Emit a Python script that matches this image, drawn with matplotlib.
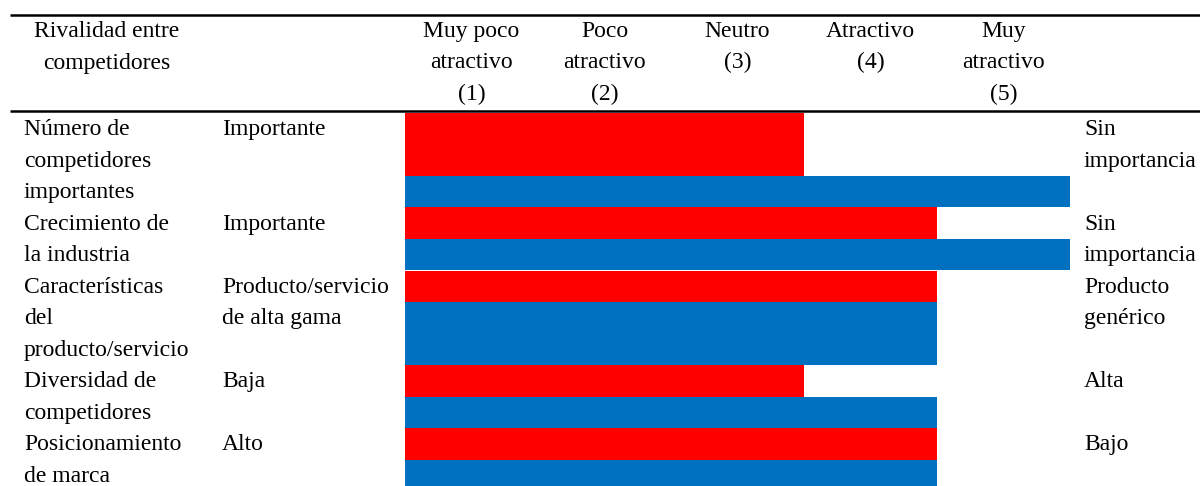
import matplotlib
matplotlib.use("Agg")
import matplotlib.pyplot as plt

# ---- data ----
header_title = ["Rivalidad entre", "competidores"]
scale_labels = [
    ["Muy poco", "atractivo", "(1)"],
    ["Poco", "atractivo", "(2)"],
    ["Neutro", "(3)"],
    ["Atractivo", "(4)"],
    ["Muy", "atractivo", "(5)"],
]
factors = [
    ["Número de", "competidores", "importantes"],
    ["Crecimiento de", "la industria"],
    ["Características", "del", "producto/servicio"],
    ["Diversidad de", "competidores"],
    ["Posicionamiento", "de marca"],
]
low_end = [
    ["Importante"],
    ["Importante"],
    ["Producto/servicio", "de alta gama"],
    ["Baja"],
    ["Alto"],
]
high_end = [
    ["Sin", "importancia"],
    ["Sin", "importancia"],
    ["Producto", "genérico"],
    ["Alta"],
    ["Bajo"],
]
red_values = [3, 4, 4, 3, 4]
blue_values = [5, 5, 4, 4, 4]

# ---- layout (pixels) ----
W, H = 1200, 486
LINE = 31.5          # text line pitch
BASE = 22            # baseline offset inside a line
HEAD_TOP = 15        # top rule
BODY_TOP = 113       # first body line top
BAR_X0, BAR_X1 = 405, 1070
COL1_X, COL2_X, COL3_X = 24, 222, 1084
TITLE_CX = 107
RED = "#FF0000"
BLUE = "#0070C0"
FONT = dict(family="Liberation Serif", size=17, color="black")

# line share of each row taken by the red / blue bar
red_lines = [2, 1, 1, 1, 1]
blue_lines = [1, 1, 2, 1, 1]

fig = plt.figure(figsize=(W / 100, H / 100), dpi=100)
fig.patch.set_facecolor("white")

# page-coordinate axes for the table text and rules
ax = fig.add_axes([0, 0, 1, 1])
ax.set_xlim(0, W)
ax.set_ylim(H, 0)
ax.axis("off")

ax.plot([10, W], [HEAD_TOP, HEAD_TOP], color="black", lw=1.8, solid_capstyle="butt")
ax.plot([10, W], [111, 111], color="black", lw=1.8, solid_capstyle="butt")


def put_lines(lines, x, top, ha="left"):
    for i, s in enumerate(lines):
        ax.text(x, top + i * LINE + BASE, s, ha=ha, va="baseline", **FONT)


put_lines(header_title, TITLE_CX, HEAD_TOP, ha="center")
col_w = (BAR_X1 - BAR_X0) / len(scale_labels)
for j, lab in enumerate(scale_labels):
    put_lines(lab, BAR_X0 + (j + 0.5) * col_w, HEAD_TOP, ha="center")

row_lines = [max(len(a), len(b), len(c)) for a, b, c in zip(factors, low_end, high_end)]
total_lines = sum(row_lines)

top = BODY_TOP
for k in range(len(factors)):
    put_lines(factors[k], COL1_X, top)
    put_lines(low_end[k], COL2_X, top)
    put_lines(high_end[k], COL3_X, top)
    top += row_lines[k] * LINE

# bar axes: x in scale units (0-5), y in text lines
bar_h_px = total_lines * LINE
axb = fig.add_axes([BAR_X0 / W, (H - BODY_TOP - bar_h_px) / H,
                    (BAR_X1 - BAR_X0) / W, bar_h_px / H])
axb.set_xlim(0, len(scale_labels))
axb.set_ylim(total_lines, 0)
axb.axis("off")

start = 0
for k in range(len(factors)):
    r, b = red_lines[k], blue_lines[k]
    axb.barh(start + r / 2, red_values[k], height=r, left=0, color=RED, linewidth=0)
    axb.barh(start + r + b / 2, blue_values[k], height=b, left=0, color=BLUE, linewidth=0)
    start += row_lines[k]

fig.savefig("out.png", dpi=100, facecolor="white")
